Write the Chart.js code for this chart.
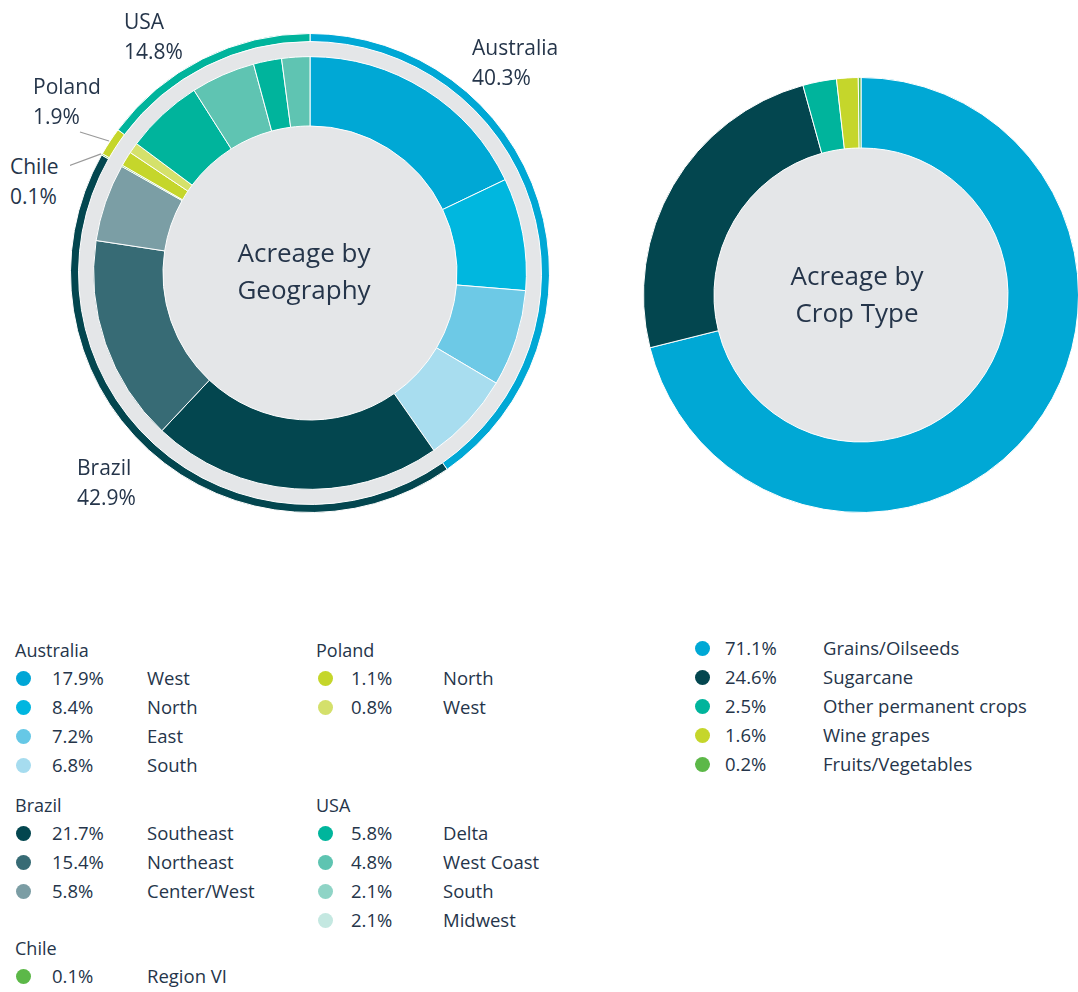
<!DOCTYPE html>
<html>
<head>
<meta charset="utf-8">
<script src="https://cdn.jsdelivr.net/npm/chart.js@4.4.1/dist/chart.umd.min.js"></script>
<style>
  html, body { margin: 0; padding: 0; background: #ffffff; }
  body { width: 1078px; height: 992px; position: relative; overflow: hidden;
         font-family: "Open Sans", "Noto Sans", sans-serif; color: #25354a; font-weight: 500; }
  .abs { position: absolute; }
  .lbl { position: absolute; font-size: 21px; line-height: 30px; white-space: nowrap; }
  .center { position: absolute; font-size: 26px; line-height: 37px; text-align: center; width: 240px; white-space: nowrap; }
  .lg { position: absolute; font-size: 18.5px; line-height: 24px; white-space: nowrap; }
  .hd { position: absolute; font-size: 18px; line-height: 24px; white-space: nowrap; }
  .dot { position: absolute; width: 15px; height: 15px; border-radius: 50%; }
</style>
</head>
<body>
<canvas id="geo" class="abs" width="480" height="480" style="left:70px;top:33px;width:480px;height:480px;"></canvas>
<canvas id="crop" class="abs" width="436" height="436" style="left:643px;top:77px;width:436px;height:436px;"></canvas>
<div id="overlay"></div>
<script>
// ---------------- DATA ----------------
const countries = ['Australia', 'Brazil', 'Chile', 'Poland', 'USA'];
const countryShares = [40.3, 42.9, 0.1, 1.9, 14.8];

const regionCountry = ['Australia', 'Australia', 'Australia', 'Australia',
                       'Brazil', 'Brazil', 'Brazil',
                       'Chile',
                       'Poland', 'Poland',
                       'USA', 'USA', 'USA', 'USA'];
const regionNames = ['West', 'North', 'East', 'South',
                     'Southeast', 'Northeast', 'Center/West',
                     'Region VI',
                     'North', 'West',
                     'Delta', 'West Coast', 'South', 'Midwest'];
const regionShares = [17.9, 8.4, 7.2, 6.8,
                      21.7, 15.4, 5.8,
                      0.1,
                      1.1, 0.8,
                      5.8, 4.8, 2.1, 2.1];

const cropTypes = ['Grains/Oilseeds', 'Sugarcane', 'Other permanent crops', 'Wine grapes', 'Fruits/Vegetables'];
const cropShares = [71.1, 24.6, 2.5, 1.6, 0.2];

const geoTitle = ['Acreage by', 'Geography'];
const cropTitle = ['Acreage by', 'Crop Type'];

// ---------------- STYLES ----------------
const countryColors = ['#00a8d5', '#03464f', '#5cb848', '#c5d62b', '#00b49c'];
const regionRingColors = ['#00a8d5', '#00b7df', '#6dc9e6', '#a8ddef',
                          '#03464f', '#376b75', '#7b9ea5',
                          '#5cb848',
                          '#c5d62b', '#d5e16b',
                          '#00b49c', '#5fc4b2', '#00b49c', '#5fc4b2'];
const regionDotColors = ['#00a6d6', '#00b6e0', '#66c8e6', '#a6dcef',
                         '#03464f', '#376b75', '#7b9da4',
                         '#5cb848',
                         '#c5d62b', '#d4e06b',
                         '#00b59c', '#5ec4b1', '#8fd4c6', '#c4e8e1'];
const cropColors = ['#00a8d5', '#03464f', '#00b49c', '#c5d62b', '#5cb848'];
const GRAY = '#e4e6e8';

// ---------------- PLUGINS ----------------
const discPlugin = {
  id: 'disc',
  beforeDatasetsDraw(chart) {
    const arc = chart.getDatasetMeta(0).data[0];
    if (!arc) return;
    const ctx = chart.ctx;
    ctx.save();
    ctx.fillStyle = GRAY;
    ctx.beginPath();
    ctx.arc(arc.x, arc.y, arc.innerRadius, 0, Math.PI * 2);
    ctx.fill();
    ctx.restore();
  }
};

// leader lines from Poland and Chile labels to their outer-ring arcs
const leaderPlugin = {
  id: 'leaders',
  afterDatasetsDraw(chart, args, opts) {
    const meta = chart.getDatasetMeta(0);
    const ctx = chart.ctx;
    const cvs = chart.canvas;
    const offX = cvs.offsetLeft, offY = cvs.offsetTop;
    ctx.save();
    ctx.strokeStyle = '#9a9a9a';
    ctx.lineWidth = 1.2;
    (opts.items || []).forEach(it => {
      const a = meta.data[countries.indexOf(it.country)];
      const mid = (a.startAngle + a.endAngle) / 2;
      const r = a.outerRadius + 1;
      const ex = a.x + Math.cos(mid) * r;
      const ey = a.y + Math.sin(mid) * r;
      ctx.beginPath();
      ctx.moveTo(it.from[0] - offX, it.from[1] - offY);
      ctx.lineTo(ex, ey);
      ctx.stroke();
    });
    ctx.restore();
  }
};

const baseOpts = {
  responsive: false,
  animation: false,
  events: [],
  layout: { padding: 0 },
  plugins: { legend: { display: false }, tooltip: { enabled: false } }
};

// ---------------- GEOGRAPHY CHART ----------------
new Chart(document.getElementById('geo'), {
  type: 'doughnut',
  data: {
    labels: countries,
    datasets: [
      { label: 'Country', data: countryShares, backgroundColor: countryColors,
        borderColor: '#ffffff', borderWidth: 1, weight: 8 },
      { label: 'gap', data: [1], backgroundColor: 'rgba(0,0,0,0)', borderWidth: 0, weight: 15 },
      { label: 'Region', data: regionShares, backgroundColor: regionRingColors,
        borderColor: '#ffffff', borderWidth: 1, weight: 69 }
    ]
  },
  options: Object.assign({}, baseOpts, {
    cutout: 147,
    plugins: Object.assign({}, baseOpts.plugins, {
      leaders: { items: [
        { country: 'Poland', from: [80, 132] },
        { country: 'Chile',  from: [68, 166] }
      ] }
    })
  }),
  plugins: [discPlugin, leaderPlugin]
});

// ---------------- CROP CHART ----------------
new Chart(document.getElementById('crop'), {
  type: 'doughnut',
  data: {
    labels: cropTypes,
    datasets: [
      { label: 'Crop', data: cropShares, backgroundColor: cropColors,
        borderColor: '#ffffff', borderWidth: 1 }
    ]
  },
  options: Object.assign({}, baseOpts, { cutout: 147 }),
  plugins: [discPlugin]
});

// ---------------- TEXT OVERLAYS ----------------
const overlay = document.getElementById('overlay');
function add(html, cls, style) {
  const d = document.createElement('div');
  d.className = cls;
  d.innerHTML = html;
  Object.assign(d.style, style);
  overlay.appendChild(d);
  return d;
}
const pct = v => v.toFixed(1) + '%';

// country labels around the geography chart
const countryLabelPos = {
  'USA':       [124, 6],
  'Australia': [472, 32],
  'Poland':    [33, 71],
  'Chile':     [10, 151],
  'Brazil':    [77, 452]
};
countries.forEach((c, i) => {
  const p = countryLabelPos[c];
  add(c + '<br>' + pct(countryShares[i]), 'lbl', { left: p[0] + 'px', top: p[1] + 'px' });
});

// center titles
add(geoTitle.join('<br>'), 'center', { left: (304 - 120) + 'px', top: (252 - 18) + 'px' });
add(cropTitle.join('<br>'), 'center', { left: (857 - 120) + 'px', top: (275 - 18) + 'px' });

// legends
function legendRow(cy, cols, color, value, name) {
  add('', 'dot', { left: (cols[0] - 7.5) + 'px', top: (cy - 7.5) + 'px', background: color });
  add(pct(value), 'lg', { left: cols[1] + 'px', top: (cy - 12) + 'px' });
  add(name, 'lg', { left: cols[2] + 'px', top: (cy - 12) + 'px' });
}
const colA = [23, 52, 147];
const colB = [325, 351, 443];
const colC = [702, 725, 823];
const groups = [
  { country: 'Australia', hx: 15,  hy: 650, cols: colA },
  { country: 'Brazil',    hx: 15,  hy: 805, cols: colA },
  { country: 'Chile',     hx: 15,  hy: 948, cols: colA },
  { country: 'Poland',    hx: 316, hy: 650, cols: colB },
  { country: 'USA',       hx: 316, hy: 805, cols: colB }
];
groups.forEach(g => {
  add(g.country, 'hd', { left: g.hx + 'px', top: (g.hy - 12) + 'px' });
  let k = 0;
  regionCountry.forEach((c, i) => {
    if (c !== g.country) return;
    legendRow(g.hy + 28 + k * 29, g.cols, regionDotColors[i], regionShares[i], regionNames[i]);
    k++;
  });
});
cropTypes.forEach((t, i) => {
  legendRow(648 + i * 29, colC, cropColors[i], cropShares[i], t);
});
</script>
</body>
</html>
